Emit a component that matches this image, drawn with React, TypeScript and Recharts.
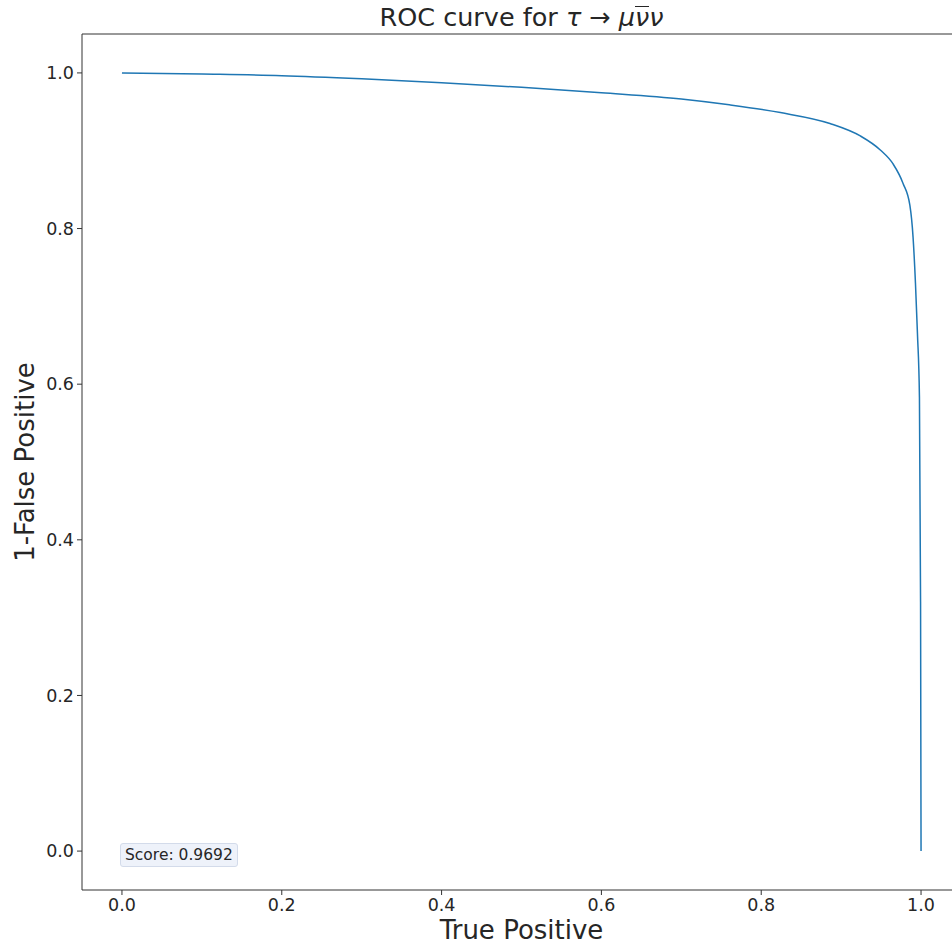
import { LineChart, Line, XAxis, YAxis, ReferenceLine } from "recharts";

// ROC points
const truePositive = [
  0, 0.1, 0.2, 0.3, 0.4, 0.5, 0.6, 0.7, 0.76, 0.824, 0.886,
  0.924, 0.949, 0.965, 0.9775, 0.986, 0.99, 0.993, 0.9955, 0.998, 0.9994, 1.0,
];
const oneMinusFalsePositive = [
  1.0, 0.9985, 0.9965, 0.9925, 0.9875, 0.9815, 0.9745, 0.9665, 0.959, 0.949, 0.935,
  0.919, 0.901, 0.883, 0.858, 0.83, 0.789, 0.73, 0.665, 0.583, 0.32, 0.0,
];
const ticks = [0, 0.2, 0.4, 0.6, 0.8, 1.0];
const score = "0.9692";

const data = truePositive.map((tp, i) => ({ tp, spec: oneMinusFalsePositive[i] }));

const FONT = "'DejaVu Sans', sans-serif";
const INK = "#262626";

const App = () => {
  const tickStyle = { fontSize: 17.5, fill: INK, fontFamily: FONT };

  return (
    <div style={{ position: "absolute", left: 0, top: 0, width: 970, height: 947, background: "#fff", fontFamily: FONT }}>
      <LineChart width={970} height={947} data={data} margin={{ top: 34, right: 9, bottom: 0, left: 0 }}>
        <XAxis
          dataKey="tp"
          type="number"
          domain={[-0.05, 1.05]}
          ticks={ticks}
          tickFormatter={(v: number) => v.toFixed(1)}
          allowDataOverflow
          height={57}
          tick={tickStyle}
          tickSize={5}
          tickMargin={4}
          stroke="#333"
        />
        <YAxis
          type="number"
          domain={[-0.05, 1.05]}
          ticks={ticks}
          tickFormatter={(v: number) => v.toFixed(1)}
          allowDataOverflow
          width={82}
          tick={tickStyle}
          tickSize={5}
          tickMargin={3}
          stroke="#333"
        />
        <ReferenceLine y={1.05} stroke="#333" strokeWidth={1} />
        <ReferenceLine x={1.05} stroke="#333" strokeWidth={1} />
        <Line
          dataKey="spec"
          type="monotone"
          stroke="#1f77b4"
          strokeWidth={1.5}
          dot={false}
          isAnimationActive={false}
        />
      </LineChart>

      {/* title */}
      <div style={{ position: "absolute", left: 82, width: 879, top: 0, textAlign: "center", fontSize: 25.5, lineHeight: "34px", color: INK }}>
        ROC curve for <i>τ</i> → <i>μ</i>
        <i style={{ display: "inline-block", borderTop: "1.5px solid " + INK, lineHeight: "20px", marginTop: 4 }}>ν</i>
        <i>ν</i>
      </div>

      {/* axis labels */}
      <div style={{ position: "absolute", left: 82, width: 879, top: 914, textAlign: "center", fontSize: 26, lineHeight: "32px", color: INK }}>
        True Positive
      </div>
      <div
        style={{
          position: "absolute",
          left: 25,
          top: 462,
          transform: "translate(-50%, -50%) rotate(-90deg)",
          whiteSpace: "nowrap",
          fontSize: 26,
          lineHeight: "32px",
          color: INK,
        }}
      >
        1-False Positive
      </div>

      {/* score box */}
      <div
        style={{
          position: "absolute",
          left: 120,
          top: 843,
          height: 24,
          padding: "0 4px",
          boxSizing: "border-box",
          background: "#eef2fa",
          border: "1px solid #d3dbea",
          borderRadius: 3,
          fontSize: 15.5,
          lineHeight: "22px",
          color: INK,
          whiteSpace: "nowrap",
        }}
      >
        Score: {score}
      </div>
    </div>
  );
};

export default App;
